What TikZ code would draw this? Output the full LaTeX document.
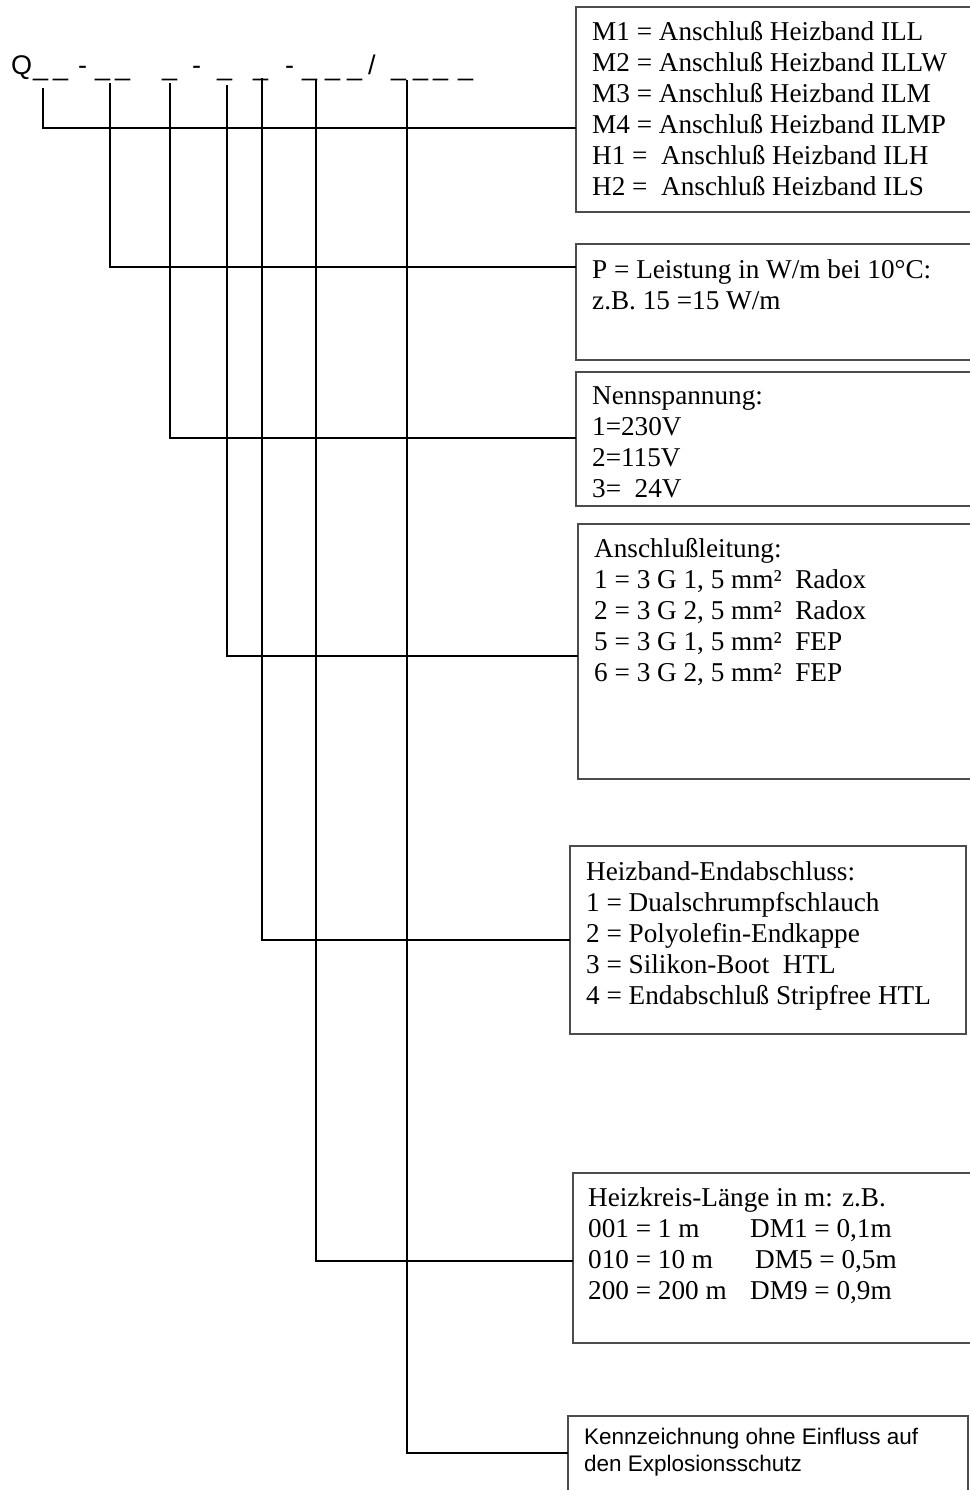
\documentclass[tikz,border=0pt]{standalone}
\usepackage{fontspec}
\setmainfont{Liberation Serif}
\newfontfamily\hdrsans{Liberation Sans}
\usetikzlibrary{positioning}

\begin{document}
\begin{tikzpicture}[x=1pt, y=-1pt,
    frame/.style={draw=black!70, line width=1.3pt, inner sep=0pt, outer sep=0pt, anchor=north west},
    lead/.style={line width=1.9pt, black},
    txt/.style={font=\fontsize{27.2}{31}\selectfont, align=left, inner sep=0pt},
    note/.style={font=\hdrsans\fontsize{22.5}{27}\selectfont, align=left, inner sep=0pt},
    hdr/.style={font=\hdrsans\fontsize{27}{30}\selectfont, inner sep=0pt, anchor=base west}
]
\useasboundingbox (0,0) rectangle (969,1490);

% type code line
\node[hdr] (q) at (11,75) {Q};
\foreach \x in {33,53,95,115,162,217,253,302,325,347,391,413,433,458}
  \node[hdr] (u\x) at (\x,76) {\_};
\node[hdr] (d1) at (78,75) {-};
\node[hdr] (d2) at (192,75) {-};
\node[hdr] (d3) at (285,75) {-};
\node[hdr] (sl) at (368,75) {/};

% tap points below the code
\coordinate (t1) at (43,88);
\coordinate (t2) at (110,83);
\coordinate (t3) at (170,83);
\coordinate (t4) at (227,85);
\coordinate (t5) at (262,78);
\coordinate (t6) at (316,80);
\coordinate (t7) at (407,80);

% boxes
\node[frame, minimum width=396pt, minimum height=205pt] (typ) at (576,7) {};
\node[frame, minimum width=396pt, minimum height=116pt] (pow) at (576,244) {};
\node[frame, minimum width=396pt, minimum height=134pt] (volt) at (576,372) {};
\node[frame, minimum width=394pt, minimum height=255pt] (cab) at (578,524) {};
\node[frame, minimum width=396pt, minimum height=188pt] (endc) at (570,846) {};
\node[frame, minimum width=399pt, minimum height=170pt] (len) at (573,1173) {};
\node[frame, minimum width=400pt, minimum height=90pt] (mark) at (568,1416) {};

\node[txt, below right=14pt and 16pt of typ.north west] (typt) {M1 = Anschluß Heizband ILL\\M2 = Anschluß Heizband ILLW\\M3 = Anschluß Heizband ILM\\M4 = Anschluß Heizband ILMP\\H1 =\ \ Anschluß Heizband ILH\\H2 =\ \ Anschluß Heizband ILS};
\node[txt, below right=15pt and 16pt of pow.north west] (powt) {P = Leistung in W/m bei 10°C:\\z.B. 15 =15 W/m};
\node[txt, below right=14pt and 16pt of volt.north west] (voltt) {Nennspannung:\\1=230V\\2=115V\\3=\ \ 24V};
\node[txt, below right=14pt and 16pt of cab.north west] (cabt) {Anschlußleitung:\\1 = 3 G 1, 5 mm²\ \ Radox\\2 = 3 G 2, 5 mm²\ \ Radox\\5 = 3 G 1, 5 mm²\ \ FEP\\6 = 3 G 2, 5 mm²\ \ FEP};
\node[txt, below right=15pt and 16pt of endc.north west] (endt) {Heizband-Endabschluss:\\1 = Dualschrumpfschlauch\\2 = Polyolefin-Endkappe\\3 = Silikon-Boot\ \ HTL\\4 = Endabschluß Stripfree HTL};
\node[txt, below right=14pt and 15pt of len.north west] (lent) {Heizkreis-Länge in m: z.B.\\\makebox[162pt][l]{001 = 1 m}DM1 = 0,1m\\\makebox[167pt][l]{010 = 10 m}DM5 = 0,5m\\\makebox[162pt][l]{200 = 200 m}DM9 = 0,9m};
\node[note, below right=12pt and 16pt of mark.north west] (markt) {Kennzeichnung ohne Einfluss auf\\den Explosionsschutz};

% leader lines
\draw[lead] (t1) |- (typ.west |- 0,128);
\draw[lead] (t2) |- (pow.west |- 0,267);
\draw[lead] (t3) |- (volt.west |- 0,438);
\draw[lead] (t4) |- (cab.west |- 0,656);
\draw[lead] (t5) |- (endc.west |- 0,940);
\draw[lead] (t6) |- (len.west |- 0,1261);
\draw[lead] (t7) |- (mark.west |- 0,1453);
\end{tikzpicture}
\end{document}
